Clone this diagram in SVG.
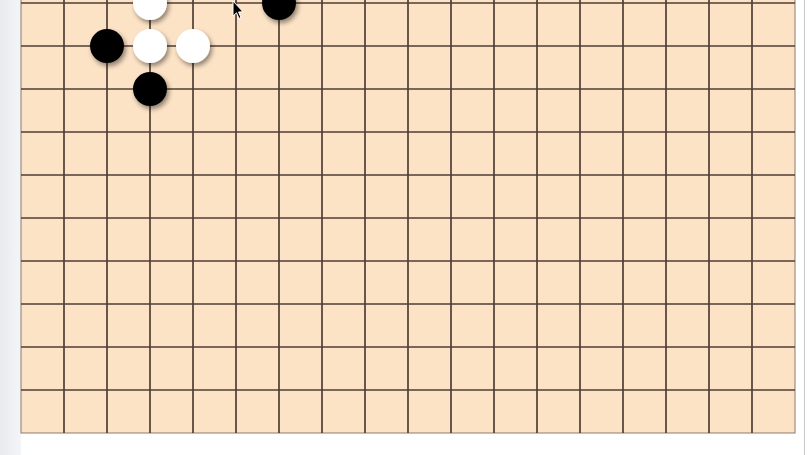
<svg xmlns="http://www.w3.org/2000/svg" width="808" height="455" viewBox="0 0 808 455">
<defs>
<linearGradient id="side" x1="0" y1="0" x2="1" y2="0">
<stop offset="0" stop-color="#e9eaee"/>
<stop offset="1" stop-color="#f4f5f7"/>
</linearGradient>
<filter id="sh" x="-50%" y="-50%" width="200%" height="200%">
<feGaussianBlur in="SourceAlpha" stdDeviation="2.5"/>
<feOffset dx="2" dy="3" result="b"/>
<feComponentTransfer><feFuncA type="linear" slope="0.45"/></feComponentTransfer>
<feMerge><feMergeNode/><feMergeNode in="SourceGraphic"/></feMerge>
</filter>
<style>
.grid line{stroke:#4f3e36;stroke-width:1.7}
.black{fill:#000}
.white{fill:#fff}
</style>
</defs>
<rect x="0" y="0" width="808" height="455" fill="#ffffff"/>
<rect x="0" y="0" width="21" height="455" fill="url(#side)"/>
<line x1="804.5" y1="0" x2="804.5" y2="455" stroke="#c9c9cc" stroke-width="1"/>
<rect id="board" x="21" y="-40" width="774" height="473" fill="#fde3c6" stroke="#8a7a70" stroke-width="1"/>
<g class="grid" id="grid">
<line x1="64" y1="-40" x2="64" y2="433"/>
<line x1="107" y1="-40" x2="107" y2="433"/>
<line x1="150" y1="-40" x2="150" y2="433"/>
<line x1="193" y1="-40" x2="193" y2="433"/>
<line x1="236" y1="-40" x2="236" y2="433"/>
<line x1="279" y1="-40" x2="279" y2="433"/>
<line x1="322" y1="-40" x2="322" y2="433"/>
<line x1="365" y1="-40" x2="365" y2="433"/>
<line x1="408" y1="-40" x2="408" y2="433"/>
<line x1="451" y1="-40" x2="451" y2="433"/>
<line x1="494" y1="-40" x2="494" y2="433"/>
<line x1="537" y1="-40" x2="537" y2="433"/>
<line x1="580" y1="-40" x2="580" y2="433"/>
<line x1="623" y1="-40" x2="623" y2="433"/>
<line x1="666" y1="-40" x2="666" y2="433"/>
<line x1="709" y1="-40" x2="709" y2="433"/>
<line x1="752" y1="-40" x2="752" y2="433"/>
<line x1="21" y1="3" x2="795" y2="3"/>
<line x1="21" y1="46" x2="795" y2="46"/>
<line x1="21" y1="89" x2="795" y2="89"/>
<line x1="21" y1="132" x2="795" y2="132"/>
<line x1="21" y1="175" x2="795" y2="175"/>
<line x1="21" y1="218" x2="795" y2="218"/>
<line x1="21" y1="261" x2="795" y2="261"/>
<line x1="21" y1="304" x2="795" y2="304"/>
<line x1="21" y1="347" x2="795" y2="347"/>
<line x1="21" y1="390" x2="795" y2="390"/>
</g>
<g id="stones" filter="url(#sh)">
<circle id="w1" class="white" cx="150" cy="3" r="17"/>
<circle id="b1" class="black" cx="279" cy="3" r="17"/>
<circle id="b2" class="black" cx="107" cy="46" r="17"/>
<circle id="w2" class="white" cx="150" cy="46" r="17"/>
<circle id="w3" class="white" cx="193" cy="46" r="17"/>
<circle id="b3" class="black" cx="150" cy="89" r="17"/>
</g>
<path id="cursor" d="M233 1 L233 16 L236.5 12.8 L239 18.5 L241 17.6 L238.6 12 L243 11.8 Z" fill="#000" stroke="#fff" stroke-width="1"/>
</svg>
